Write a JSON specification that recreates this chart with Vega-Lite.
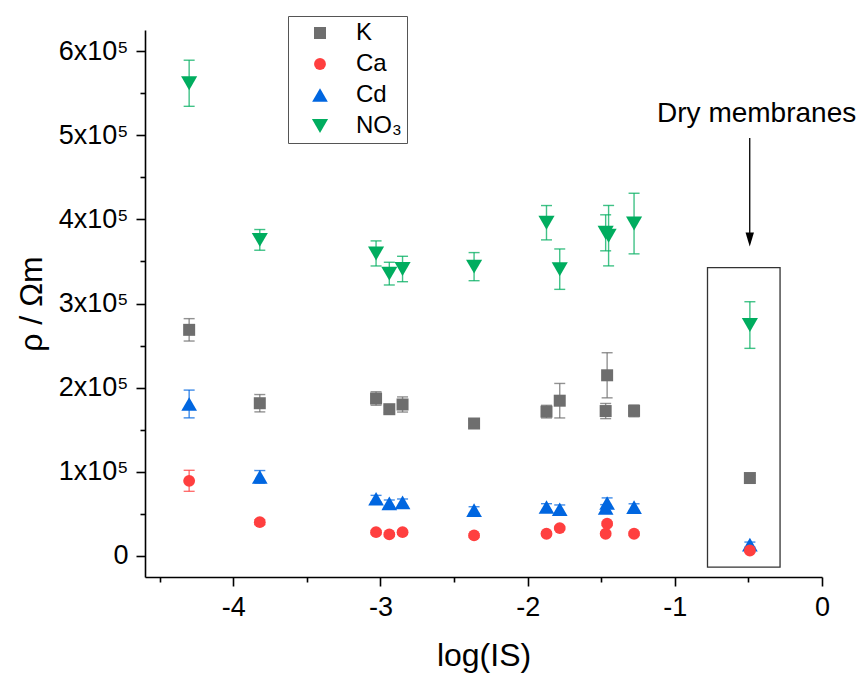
{
  "$schema": "https://vega.github.io/schema/vega-lite/v6.json",
  "width": 677,
  "height": 547,
  "autosize": "none",
  "padding": {"left": 145, "top": 30, "right": 36, "bottom": 102},
  "config": {
    "view": {"stroke": null},
    "font": "Liberation Sans",
    "axis": {
      "grid": false,
      "domainColor": "black",
      "domainWidth": 1.6,
      "tickColor": "black",
      "tickWidth": 1.6,
      "labelColor": "black",
      "titleColor": "black",
      "titleFontWeight": "normal",
      "labelFont": "Liberation Sans",
      "titleFont": "Liberation Sans",
      "labelFlush": false,
      "labelOverlap": false
    },
    "legend": {
      "title": null,
      "orient": "none",
      "legendX": 143,
      "legendY": -14,
      "strokeColor": "#555555",
      "padding": 5,
      "symbolOffset": 15,
      "labelOffset": 24,
      "labelFontSize": 24,
      "labelFont": "Liberation Sans",
      "labelColor": "black",
      "rowPadding": 7,
      "symbolStrokeWidth": 0,
      "symbolOpacity": 1
    }
  },
  "datasets": {
    "pts": [
      {"logIS": -4.30, "rho": 561700, "err": 27400, "ion": "NO₃"},
      {"logIS": -3.82, "rho": 375600, "err": 12300, "ion": "NO₃"},
      {"logIS": -3.03, "rho": 359500, "err": 14900, "ion": "NO₃"},
      {"logIS": -2.94, "rho": 335500, "err": 13500, "ion": "NO₃"},
      {"logIS": -2.85, "rho": 341000, "err": 15100, "ion": "NO₃"},
      {"logIS": -2.364, "rho": 343800, "err": 16700, "ion": "NO₃"},
      {"logIS": -1.872, "rho": 396000, "err": 20400, "ion": "NO₃"},
      {"logIS": -1.782, "rho": 340800, "err": 24000, "ion": "NO₃"},
      {"logIS": -1.47, "rho": 384000, "err": 21400, "ion": "NO₃"},
      {"logIS": -1.45, "rho": 380600, "err": 35900, "ion": "NO₃"},
      {"logIS": -1.277, "rho": 395000, "err": 36000, "ion": "NO₃"},
      {"logIS": -0.49, "rho": 274400, "err": 27700, "ion": "NO₃"},
      {"logIS": -4.30, "rho": 268700, "err": 13300, "ion": "K"},
      {"logIS": -3.82, "rho": 181500, "err": 10300, "ion": "K"},
      {"logIS": -3.03, "rho": 187100, "err": 8000, "ion": "K"},
      {"logIS": -2.94, "rho": 174400, "err": 4000, "ion": "K"},
      {"logIS": -2.85, "rho": 180000, "err": 9000, "ion": "K"},
      {"logIS": -2.364, "rho": 157400, "err": 4000, "ion": "K"},
      {"logIS": -1.872, "rho": 171500, "err": 7500, "ion": "K"},
      {"logIS": -1.782, "rho": 184500, "err": 20500, "ion": "K"},
      {"logIS": -1.47, "rho": 172200, "err": 9000, "ion": "K"},
      {"logIS": -1.46, "rho": 214700, "err": 26800, "ion": "K"},
      {"logIS": -1.277, "rho": 172400, "err": 7000, "ion": "K"},
      {"logIS": -0.49, "rho": 92600, "err": 3000, "ion": "K"},
      {"logIS": -4.30, "rho": 180600, "err": 16500, "ion": "Cd"},
      {"logIS": -3.82, "rho": 94000, "err": 7500, "ion": "Cd"},
      {"logIS": -3.03, "rho": 68000, "err": 4000, "ion": "Cd"},
      {"logIS": -2.94, "rho": 62500, "err": 4000, "ion": "Cd"},
      {"logIS": -2.85, "rho": 63700, "err": 4000, "ion": "Cd"},
      {"logIS": -2.364, "rho": 54500, "err": 4000, "ion": "Cd"},
      {"logIS": -1.872, "rho": 58100, "err": 4000, "ion": "Cd"},
      {"logIS": -1.782, "rho": 55600, "err": 5000, "ion": "Cd"},
      {"logIS": -1.47, "rho": 57000, "err": 4000, "ion": "Cd"},
      {"logIS": -1.46, "rho": 63000, "err": 6000, "ion": "Cd"},
      {"logIS": -1.277, "rho": 58000, "err": 4000, "ion": "Cd"},
      {"logIS": -0.49, "rho": 13500, "err": 3000, "ion": "Cd"},
      {"logIS": -4.30, "rho": 89300, "err": 12500, "ion": "Ca"},
      {"logIS": -3.82, "rho": 40200, "err": 3000, "ion": "Ca"},
      {"logIS": -3.03, "rho": 28300, "err": 2000, "ion": "Ca"},
      {"logIS": -2.94, "rho": 25600, "err": 2000, "ion": "Ca"},
      {"logIS": -2.85, "rho": 28300, "err": 2000, "ion": "Ca"},
      {"logIS": -2.364, "rho": 24400, "err": 2000, "ion": "Ca"},
      {"logIS": -1.872, "rho": 26400, "err": 2000, "ion": "Ca"},
      {"logIS": -1.782, "rho": 33100, "err": 2000, "ion": "Ca"},
      {"logIS": -1.47, "rho": 26400, "err": 2000, "ion": "Ca"},
      {"logIS": -1.46, "rho": 38300, "err": 2000, "ion": "Ca"},
      {"logIS": -1.277, "rho": 26400, "err": 2000, "ion": "Ca"},
      {"logIS": -0.49, "rho": 6500, "err": 2000, "ion": "Ca"}
    ],
    "box": [{"xa": -0.778, "xb": -0.285, "ya": -13300, "yb": 342600}],
    "arrow": [{"x": -0.491, "ytop": 496700, "ytip": 372000, "yhead": 367600}],
    "note": [{"x": -0.444, "y": 515200, "label": "Dry membranes"}]
  },
  "layer": [
    {
      "data": {"name": "box"},
      "mark": {"type": "rect", "filled": false, "stroke": "#333333", "strokeWidth": 1.3},
      "encoding": {
        "x": {"field": "xa", "type": "quantitative", "title": "log(IS)", "scale": {"domain": [-4.6, 0], "nice": false, "zero": false}},
        "x2": {"field": "xb"},
        "y": {"field": "ya", "type": "quantitative", "title": "ρ / Ωm", "scale": {"domain": [-25000, 625000], "nice": false, "zero": false}},
        "y2": {"field": "yb"}
      }
    },
    {
      "data": {"name": "pts"},
      "mark": {"type": "errorbar", "ticks": {"size": 11, "thickness": 1.4, "opacity": 0.75}, "rule": {"strokeWidth": 1.4, "opacity": 0.75}},
      "encoding": {
        "x": {"field": "logIS", "type": "quantitative", "title": "log(IS)", "scale": {"domain": [-4.6, 0], "nice": false, "zero": false}},
        "y": {"field": "rho", "type": "quantitative", "title": "ρ / Ωm", "scale": {"domain": [-25000, 625000], "nice": false, "zero": false}},
        "yError": {"field": "err"},
        "color": {"field": "ion", "type": "nominal", "scale": {"domain": ["K", "Ca", "Cd", "NO₃"], "range": ["#6e6e6e", "#ff3f3f", "#0066e0", "#00ad5f"]}}
      }
    },
    {
      "data": {"name": "pts"},
      "mark": {"type": "point", "filled": true, "opacity": 1, "strokeWidth": 0},
      "encoding": {
        "x": {
          "field": "logIS", "type": "quantitative",
          "scale": {"domain": [-4.6, 0], "nice": false, "zero": false},
          "axis": {
            "title": "log(IS)",
            "values": [-4.5, -4, -3.5, -3, -2.5, -2, -1.5, -1, -0.5, 0],
            "labelExpr": "datum.value % 1 === 0 ? '' + datum.value : ''",
            "tickSize": {"condition": {"test": "datum.value % 1 !== 0", "value": 5}, "value": 9},
            "labelFontSize": 27,
            "labelPadding": 8,
            "titleFontSize": 32,
            "titlePadding": 20
          }
        },
        "y": {
          "field": "rho", "type": "quantitative",
          "scale": {"domain": [-25000, 625000], "nice": false, "zero": false},
          "axis": {
            "title": "ρ / Ωm",
            "values": [0, 50000, 100000, 150000, 200000, 250000, 300000, 350000, 400000, 450000, 500000, 550000, 600000],
            "labelExpr": "datum.value === 0 ? '0' : (datum.value % 100000 === 0 ? (datum.value / 100000) + 'x10⁵' : '')",
            "tickSize": {"condition": {"test": "datum.value % 100000 !== 0", "value": 5}, "value": 9},
            "labelFontSize": 27,
            "labelPadding": 8,
            "titleFontSize": 32,
            "titlePadding": 10
          }
        },
        "color": {
          "field": "ion", "type": "nominal",
          "scale": {"domain": ["K", "Ca", "Cd", "NO₃"], "range": ["#6e6e6e", "#ff3f3f", "#0066e0", "#00ad5f"]}
        },
        "shape": {
          "field": "ion", "type": "nominal",
          "scale": {"domain": ["K", "Ca", "Cd", "NO₃"], "range": ["square", "circle", "triangle-up", "triangle-down"]}
        },
        "size": {
          "field": "ion", "type": "nominal",
          "scale": {"type": "ordinal", "domain": ["K", "Ca", "Cd", "NO₃"], "range": [144, 140, 246, 260]}
        }
      }
    },
    {
      "data": {"name": "arrow"},
      "mark": {"type": "rule", "color": "black", "strokeWidth": 1.3},
      "encoding": {
        "x": {"field": "x", "type": "quantitative", "title": "log(IS)", "scale": {"domain": [-4.6, 0], "nice": false, "zero": false}},
        "y": {"field": "ytop", "type": "quantitative", "title": "ρ / Ωm", "scale": {"domain": [-25000, 625000], "nice": false, "zero": false}},
        "y2": {"field": "ytip"}
      }
    },
    {
      "data": {"name": "arrow"},
      "mark": {"type": "point", "shape": "M-0.6,-2L0.6,-2L0,0Z", "size": 196, "filled": true, "color": "black", "opacity": 1, "strokeWidth": 0},
      "encoding": {
        "x": {"field": "x", "type": "quantitative", "title": "log(IS)", "scale": {"domain": [-4.6, 0], "nice": false, "zero": false}},
        "y": {"field": "yhead", "type": "quantitative", "title": "ρ / Ωm", "scale": {"domain": [-25000, 625000], "nice": false, "zero": false}}
      }
    },
    {
      "data": {"name": "note"},
      "mark": {"type": "text", "fontSize": 28, "align": "center", "baseline": "alphabetic", "color": "black", "font": "Liberation Sans"},
      "encoding": {
        "x": {"field": "x", "type": "quantitative", "title": "log(IS)", "scale": {"domain": [-4.6, 0], "nice": false, "zero": false}},
        "y": {"field": "y", "type": "quantitative", "title": "ρ / Ωm", "scale": {"domain": [-25000, 625000], "nice": false, "zero": false}},
        "text": {"field": "label"}
      }
    }
  ]
}
